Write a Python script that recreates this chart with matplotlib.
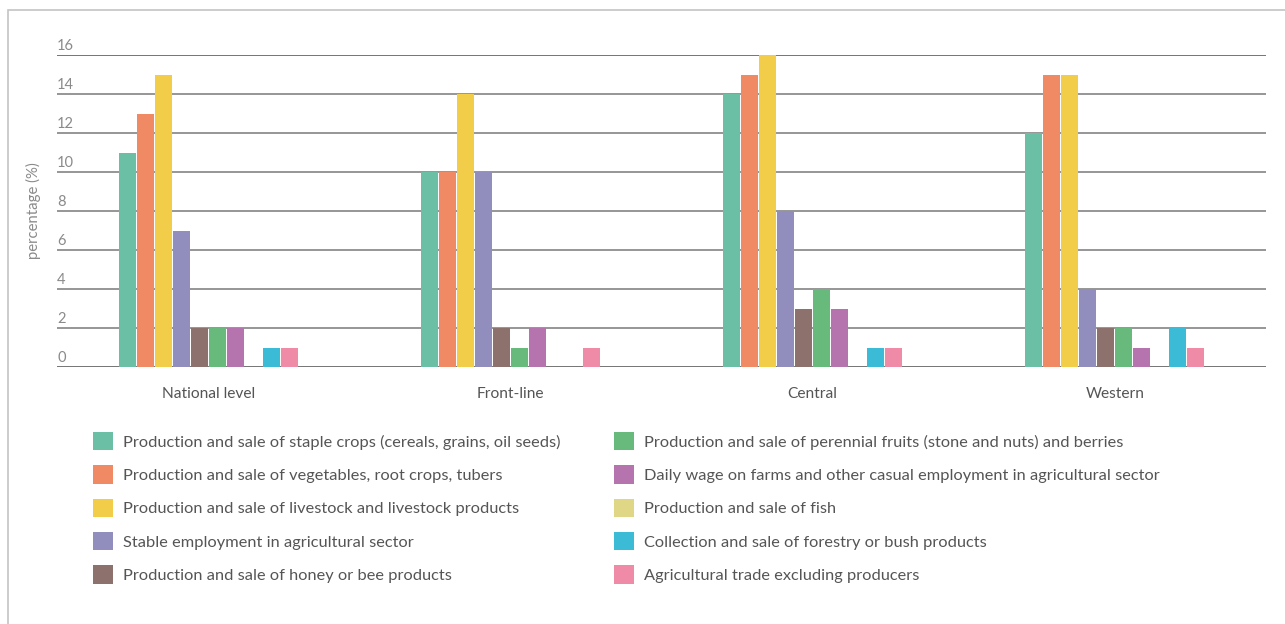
import matplotlib.pyplot as plt
from matplotlib.patches import Patch, Rectangle

plt.rcParams['font.family'] = ['Lato', 'DejaVu Sans']

regions = ['National level', 'Front-line', 'Central', 'Western']

series = [
    'Production and sale of staple crops (cereals, grains, oil seeds)',
    'Production and sale of vegetables, root crops, tubers',
    'Production and sale of livestock and livestock products',
    'Stable employment in agricultural sector',
    'Production and sale of honey or bee products',
    'Production and sale of perennial fruits (stone and nuts) and berries',
    'Daily wage on farms and other casual employment in agricultural sector',
    'Production and sale of fish',
    'Collection and sale of forestry or bush products',
    'Agricultural trade excluding producers',
]

staple = [11, 10, 14, 12]
vegetables = [13, 10, 15, 15]
livestock = [15, 14, 16, 15]
stable_job = [7, 10, 8, 4]
honey = [2, 2, 3, 2]
perennial = [2, 1, 4, 2]
daily_wage = [2, 2, 3, 1]
fish = [0, 0, 0, 0]
forestry = [1, 0, 1, 2]
trade = [1, 1, 1, 1]

values = [staple, vegetables, livestock, stable_job, honey,
          perennial, daily_wage, fish, forestry, trade]

colors = ['#6bbfa5', '#f08a65', '#f2cd4a', '#918dbd', '#8c716c',
          '#67ba7b', '#b574ae', '#dfd785', '#3bbbd5', '#ef8ba7']

W, H = 1285, 624
fig = plt.figure(figsize=(W / 100, H / 100), dpi=100)

# light frame around the figure (open to the right/bottom like the source crop)
fig.patches.append(Rectangle((8 / W, -0.1), 1.2, 1 - 10 / H + 0.1,
                             transform=fig.transFigure, fill=False,
                             edgecolor='#c4c4c4', linewidth=1.2))

ax = fig.add_axes([57 / W, 1 - 367 / H, (1266 - 57) / W, (367 - 55) / H])

step = 0.0596
width = 0.0563
for i, (vals, c) in enumerate(zip(values, colors)):
    xs = [g + (i - 4.5) * step for g in range(len(regions))]
    ax.bar(xs, vals, width=width, color=c, linewidth=0, zorder=3)

ax.set_xlim(-0.5, len(regions) - 0.5)
ax.set_ylim(0, 16)
yt = list(range(0, 17, 2))
ax.set_yticks(yt)
ax.set_yticklabels([])
for y in yt:
    ax.axhline(y, color='#6a6a6a' if y in (0, 16) else '#8e8e8e',
               linewidth=1.3, zorder=1)
    # tick labels sit just above their gridline, inside the plot
    ax.annotate(str(y), xy=(0, y), xycoords=('axes fraction', 'data'),
                xytext=(0, 1.5), textcoords='offset points',
                ha='left', va='bottom', fontsize=10.5, color='#8a8a8a')

for s in ax.spines.values():
    s.set_visible(False)

ax.set_xticks(range(len(regions)))
ax.set_xticklabels(regions, fontsize=11.2, color='#555555')
ax.tick_params(axis='x', length=0, pad=14.5)
ax.tick_params(axis='y', length=0)

ax.set_ylabel('percentage (%)', fontsize=10.7, color='#8a8a8a')
ax.yaxis.set_label_coords(-16 / (1266 - 57), 0.5)

handles = [Patch(facecolor=c, edgecolor='none') for c in colors]
leg_kw = dict(frameon=False, fontsize=11.8, handlelength=1.2, handleheight=1.35,
              handletextpad=0.6, labelspacing=0.91, labelcolor='#555555',
              loc='upper left', borderaxespad=0, borderpad=0)
leg1 = fig.legend(handles[:5], series[:5],
                  bbox_to_anchor=(93 / W, 1 - 432 / H), **leg_kw)
leg2 = fig.legend(handles[5:], series[5:],
                  bbox_to_anchor=(614 / W, 1 - 432 / H), **leg_kw)

fig.savefig('out.png', dpi=100)
